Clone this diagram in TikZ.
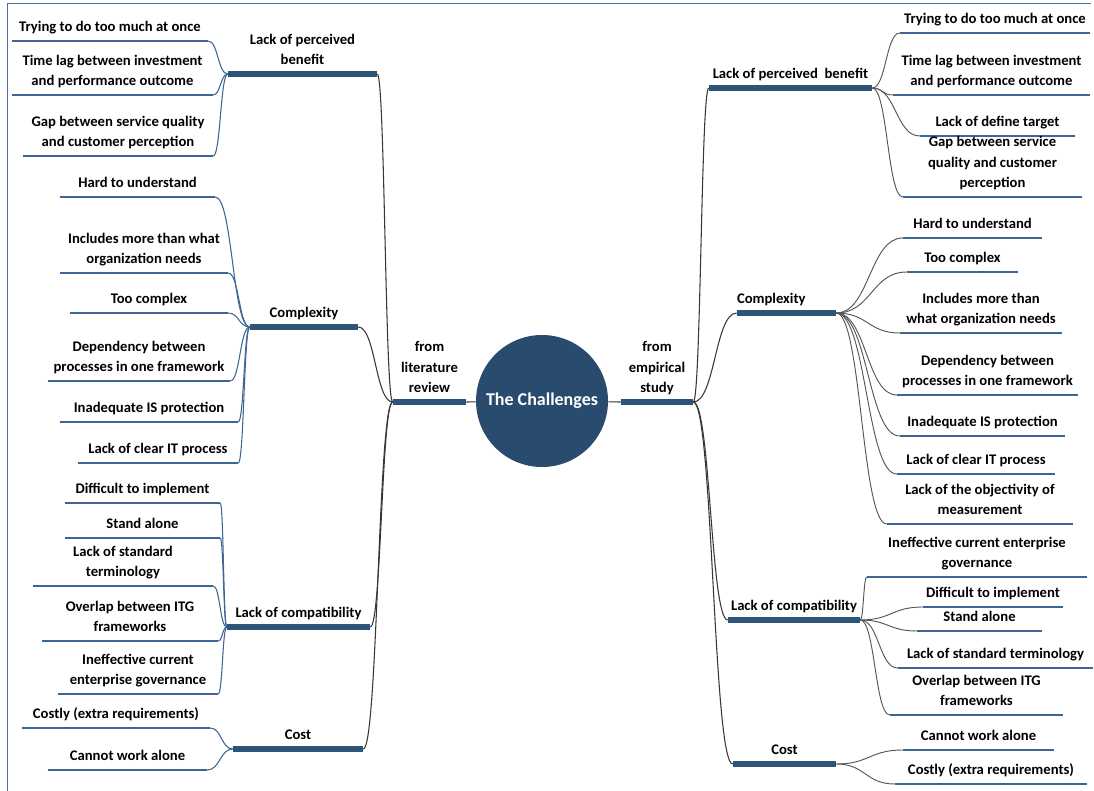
\documentclass[tikz,border=0pt]{standalone}
\usepackage{fontspec}
\setmainfont{Carlito}
\usetikzlibrary{calc}

\definecolor{hubblue}{RGB}{41,76,110}
\definecolor{barblue}{RGB}{46,84,122}
\definecolor{lineblue}{RGB}{62,102,148}
\definecolor{trunkgray}{RGB}{55,55,55}
\definecolor{twiggray}{RGB}{85,85,85}
\definecolor{framecol}{RGB}{82,112,160}

\newcommand{\upx}{0.75pt}

\tikzset{
  uline/.style={draw=lineblue, line width=0.8pt},
  ubar/.style={draw=barblue, line width=3.8pt},
  lbl/.style={anchor=south, align=center, inner xsep=0pt, inner ysep=2pt,
    font=\bfseries\fontsize{11}{15.6}\selectfont, execute at end node=\strut},
  leaf/.style={lbl, minimum width=#1*\upx,
    append after command={(\tikzlastnode.south west) edge[uline] (\tikzlastnode.south east)}},
  topic/.style={lbl, minimum width=#1*\upx,
    append after command={(\tikzlastnode.south west) edge[ubar] (\tikzlastnode.south east)}},
  hub/.style={circle, fill=hubblue, text=white, minimum size=99pt, inner sep=0pt,
    font=\bfseries\fontsize{13.5}{16}\selectfont},
  curvy/.style={to path={let \p1=(\tikztostart), \p2=(\tikztotarget) in
    .. controls ({(\x1+\x2)/2},\y1) and ({(\x1+\x2)/2},\y2) .. (\tikztotarget)}},
  stub/.style={draw=trunkgray, line width=0.8pt},
  trunk/.style={curvy, draw=trunkgray, line width=0.8pt},
  twigl/.style={curvy, draw=lineblue, line width=0.8pt},
  twigr/.style={curvy, draw=twiggray, line width=0.7pt}
}

\begin{document}
\begin{tikzpicture}[x=0.75pt,y=-0.75pt]

  \useasboundingbox (0,0) rectangle (1094,791);
  \draw[framecol, line width=0.7pt] (7,791) -- (7,3) -- (1091,3);

  \node[hub]      (hub)  at (542,401)   {The Challenges};
  \node[topic=73] (lit)  at (429.5,402) {from\\literature\\review};
  \node[topic=72] (emp)  at (657,402)   {from\\empirical\\study};

  \node[topic=149] (lben) at (302.5,74) {Lack of perceived\\benefit};
  \node[topic=108] (lcpx) at (304,327)  {Complexity};
  \node[topic=143] (lcmp) at (298.5,627) {Lack of compatibility};
  \node[topic=130] (lcst) at (298,749)  {Cost};

  \node[leaf=196] (lb1) at (110,41)   {Trying to do too much at once};
  \node[leaf=201] (lb2) at (112.5,95) {Time lag between investment\\and performance outcome};
  \node[leaf=190] (lb3) at (118,156)  {Gap between service quality\\and customer perception};

  \node[leaf=155] (lc1) at (137.5,197) {Hard to understand};
  \node[leaf=168] (lc2) at (144,273)   {Includes more than what\\organization needs};
  \node[leaf=158] (lc3) at (149,313)   {Too complex};
  \node[leaf=182] (lc4) at (139,381)   {Dependency between\\processes in one framework};
  \node[leaf=178] (lc5) at (149,422)   {Inadequate IS protection};
  \node[leaf=160] (lc6) at (158,463)   {Lack of clear IT process};

  \node[leaf=155] (lm1) at (142.5,503) {Difficult to implement};
  \node[leaf=155] (lm2) at (142.5,538) {Stand alone};
  \node[leaf=180] (lm3) at (123,586)   {Lack of standard\\terminology};
  \node[leaf=176] (lm4) at (130,641)   {Overlap between ITG\\frameworks};
  \node[leaf=160] (lm5) at (138,694)   {Ineffective current\\enterprise governance};

  \node[leaf=188] (ls1) at (116,728)   {Costly (extra requirements)};
  \node[leaf=159] (ls2) at (127.5,770) {Cannot work alone};

  \node[topic=163] (rben) at (790.5,88) {Lack of perceived~ benefit};
  \node[topic=99, text width=74.25pt, align=left] (rcpx) at (786.5,313) {Complexity};
  \node[topic=132] (rcmp) at (794,620) {Lack of compatibility};
  \node[topic=103] (rcst) at (784.5,764) {Cost};

  \node[leaf=190] (rb1) at (995,33)    {Trying to do too much at once};
  \node[leaf=197] (rb2) at (991.5,95)  {Time lag between investment\\and performance outcome};
  \node[leaf=155] (rb3) at (997.5,136) {Lack of define target};
  \node[leaf=179] (rb4) at (992.5,197) {Gap between service\\quality and customer\\perception};

  \node[leaf=139] (rc1) at (972.5,238) {Hard to understand};
  \node[leaf=111] (rc2) at (962.5,272) {Too complex};
  \node[leaf=162] (rc3) at (981,333)   {Includes more than\\what organization needs};
  \node[leaf=181] (rc4) at (987.5,395) {Dependency between\\processes in one framework};
  \node[leaf=165] (rc5) at (982.5,436) {Inadequate IS protection};
  \node[leaf=158] (rc6) at (976,474)   {Lack of clear IT process};
  \node[leaf=186] (rc7) at (980,524)   {Lack of the objectivity of\\measurement};

  \node[leaf=220] (rm1) at (977,577)   {Ineffective current enterprise\\governance};
  \node[leaf=140] (rm2) at (993,607)   {Difficult to implement};
  \node[leaf=125] (rm3) at (979.5,631) {Stand alone};
  \node[leaf=195] (rm4) at (995.5,668) {Lack of standard terminology};
  \node[leaf=173] (rm5) at (976.5,715) {Overlap between ITG\\frameworks};

  \node[leaf=151] (rs1) at (978.5,750) {Cannot work alone};
  \node[leaf=192] (rs2) at (991,784)   {Costly (extra requirements)};

  \path (lit.south east) edge[stub] (hub)
        (hub) edge[stub] (emp.south west);

  \path (lben.south east) edge[trunk] (lit.south west)
        (lcpx.south east) edge[trunk] (lit.south west)
        (lcmp.south east) edge[trunk] (lit.south west)
        (lcst.south east) edge[trunk] (lit.south west)
        (emp.south east)  edge[trunk] (rben.south west)
                          edge[trunk] (rcpx.south west)
                          edge[trunk] (rcmp.south west)
                          edge[trunk] (rcst.south west);

  \path (lb1.south east) edge[twigl] (lben.south west)
        (lb2.south east) edge[twigl] (lben.south west)
        (lb3.south east) edge[twigl] (lben.south west)
        (lc1.south east) edge[twigl] (lcpx.south west)
        (lc2.south east) edge[twigl] (lcpx.south west)
        (lc3.south east) edge[twigl] (lcpx.south west)
        (lc4.south east) edge[twigl] (lcpx.south west)
        (lc5.south east) edge[twigl] (lcpx.south west)
        (lc6.south east) edge[twigl] (lcpx.south west)
        (lm1.south east) edge[twigl] (lcmp.south west)
        (lm2.south east) edge[twigl] (lcmp.south west)
        (lm3.south east) edge[twigl] (lcmp.south west)
        (lm4.south east) edge[twigl] (lcmp.south west)
        (lm5.south east) edge[twigl] (lcmp.south west)
        (ls1.south east) edge[twigl] (lcst.south west)
        (ls2.south east) edge[twigl] (lcst.south west);

  \path (rben.south east) edge[twigr] (rb1.south west)
                          edge[twigr] (rb2.south west)
                          edge[twigr] (rb3.south west)
                          edge[twigr] (rb4.south west)
        (rcpx.south east) edge[twigr] (rc1.south west)
                          edge[twigr] (rc2.south west)
                          edge[twigr] (rc3.south west)
                          edge[twigr] (rc4.south west)
                          edge[twigr] (rc5.south west)
                          edge[twigr] (rc6.south west)
                          edge[twigr] (rc7.south west)
        (rcmp.south east) edge[twigr] (rm1.south west)
                          edge[twigr] (rm2.south west)
                          edge[twigr] (rm3.south west)
                          edge[twigr] (rm4.south west)
                          edge[twigr] (rm5.south west)
        (rcst.south east) edge[twigr] (rs1.south west)
                          edge[twigr] (rs2.south west);
\end{tikzpicture}
\end{document}
